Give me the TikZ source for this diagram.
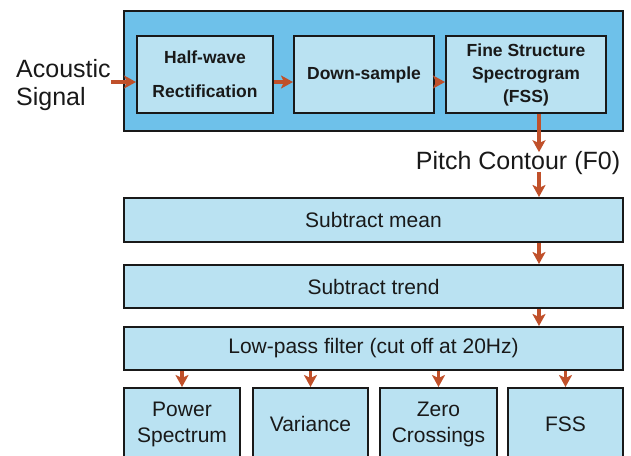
\documentclass[tikz,border=0pt]{standalone}
\usepackage{fontspec}
\setmainfont{Liberation Sans}
\usetikzlibrary{arrows.meta}
\definecolor{panelblue}{RGB}{110,193,234}
\definecolor{boxblue}{RGB}{186,226,242}
\definecolor{flowred}{RGB}{192,80,42}
\definecolor{inkgray}{RGB}{25,25,25}
\tikzset{
  panel/.style={draw=inkgray, line width=2.4pt, fill=panelblue, inner sep=0pt},
  stagebox/.style={draw=inkgray, line width=2pt, fill=boxblue, inner sep=0pt,
    minimum height=77pt, align=center, text=inkgray, font=\fontsize{17.5}{36}\selectfont\bfseries},
  widebox/.style={draw=inkgray, line width=2pt, fill=boxblue, inner sep=0pt,
    minimum width=499pt, align=center, text=inkgray, font=\fontsize{21}{26}\selectfont},
  outbox/.style={draw=inkgray, line width=2pt, fill=boxblue, inner sep=0pt,
    minimum height=72pt, align=center, text=inkgray, font=\fontsize{21}{26}\selectfont},
  flow/.style={draw=flowred, line width=3.2pt, -{Stealth[length=12pt,width=13pt,inset=3pt]}},
  label/.style={inner sep=0pt, text=inkgray, font=\fontsize{25}{28}\selectfont}
}
\begin{document}
\begin{tikzpicture}[x=1pt, y=-1pt]
\clip (0,0) rectangle (631,455);
\fill[white] (0,0) rectangle (631,455);

% front end: rectification, down-sampling and fine structure spectrogram
\node[panel, minimum width=499pt, minimum height=120pt] (front) at (373.5,71) {};
\node[stagebox, minimum width=136pt] (half) at (205,74.5) {Half-wave\\[-2pt]Rectification};
\node[stagebox, minimum width=140pt] (down) at (364,74.5) {Down-sample};
\node[stagebox, minimum width=160pt,
      font=\fontsize{17.5}{23}\selectfont\bfseries] (fss) at (526,74.5) {Fine Structure\\Spectrogram\\(FSS)};

\node[label, anchor=west, align=left] (input) at (16,85) {Acoustic\\Signal};
\node[label] (pitch) at (518,163) {Pitch Contour (F0)};

% processing chain
\node[widebox, minimum height=44pt] (mean) at (373.5,220) {Subtract mean};
\node[widebox, minimum height=43pt] (trend) at (373.5,286.5) {Subtract trend};
\node[widebox, minimum height=43pt] (lowpass) at (373.5,348.5) {Low-pass filter (cut off at 20Hz)};

% features
\node[outbox, minimum width=116pt] (power) at (182,424) {Power\\Spectrum};
\node[outbox, minimum width=115pt] (var) at (310.5,424) {Variance};
\node[outbox, minimum width=117pt] (zero) at (438.5,424) {Zero\\Crossings};
\node[outbox, minimum width=115pt] (fssout) at (565.5,424) {FSS};

% connectors
\coordinate (row) at (0,82);
\coordinate (col) at (539,0);
\draw[flow] (input.east |- row) -- (half.west |- row);
\draw[flow] (half.east |- row) -- (down.west |- row);
\draw[flow] (down.east |- row) -- (fss.west |- row);
\draw[flow] (fss.south -| col) -- ([yshift=-1pt]pitch.north -| col);
\draw[flow] ([yshift=3pt]pitch.south -| col) -- (mean.north -| col);
\draw[flow] (mean.south -| col) -- (trend.north -| col);
\draw[flow] (trend.south -| col) -- (lowpass.north -| col);
\draw[flow] (lowpass.south -| power) -- (power.north);
\draw[flow] (lowpass.south -| var) -- (var.north);
\draw[flow] (lowpass.south -| zero) -- (zero.north);
\draw[flow] (lowpass.south -| fssout) -- (fssout.north);
\end{tikzpicture}
\end{document}
